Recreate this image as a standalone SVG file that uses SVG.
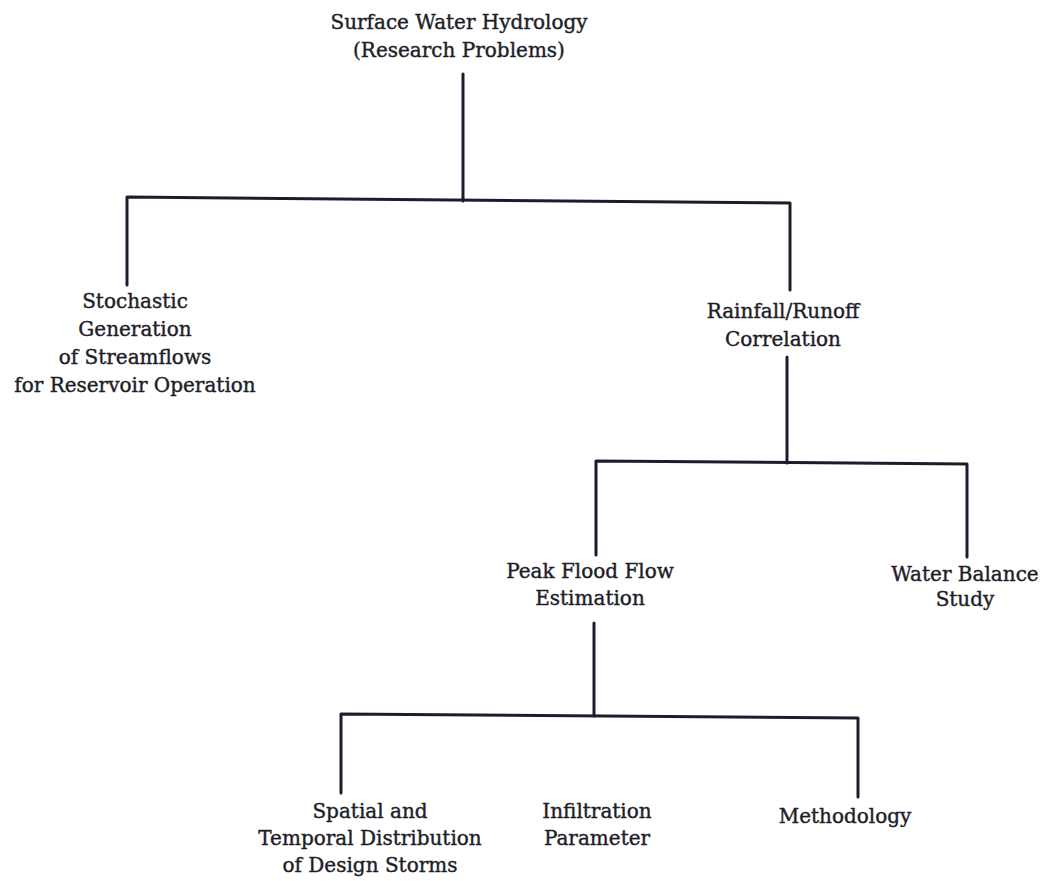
<svg xmlns="http://www.w3.org/2000/svg" width="1049" height="881" viewBox="0 0 1049 881">
<style>
.t{font-family:"DejaVu Serif","Liberation Serif",serif;font-size:20px;fill:#1e1e28;stroke:#1e1e28;stroke-width:0.4;text-anchor:middle;}
.c{stroke:#1c1c2c;stroke-width:3;fill:none;stroke-linecap:round;stroke-linejoin:round;}
</style>
<rect width="1049" height="881" fill="#ffffff"/>
<g id="connectors">
<path class="c" d="M463,74 V201"/>
<path class="c" d="M127,285 V197 L790,203 V290"/>
<path class="c" d="M787,357 V463"/>
<path class="c" d="M596,555 V461 L967,464 V557"/>
<path class="c" d="M594,623 V716"/>
<path class="c" d="M341,793 V714 L858,718 V797"/>
</g>
<g id="root"><text class="t" x="459" y="29">Surface Water Hydrology</text><text class="t" x="459" y="57">(Research Problems)</text></g>
<g id="stochastic"><text class="t" x="135" y="308">Stochastic</text><text class="t" x="135" y="336">Generation</text><text class="t" x="135" y="364">of Streamflows</text><text class="t" x="135" y="392">for Reservoir Operation</text></g>
<g id="rainfall"><text class="t" x="783" y="318">Rainfall/Runoff</text><text class="t" x="783" y="346">Correlation</text></g>
<g id="peak"><text class="t" x="590" y="578">Peak Flood Flow</text><text class="t" x="590" y="605">Estimation</text></g>
<g id="water"><text class="t" x="965" y="581">Water Balance</text><text class="t" x="965" y="606">Study</text></g>
<g id="spatial"><text class="t" x="370" y="818">Spatial and</text><text class="t" x="370" y="845">Temporal Distribution</text><text class="t" x="370" y="872">of Design Storms</text></g>
<g id="infiltration"><text class="t" x="597" y="818">Infiltration</text><text class="t" x="597" y="845">Parameter</text></g>
<g id="methodology"><text class="t" x="845" y="823">Methodology</text></g>
</svg>
